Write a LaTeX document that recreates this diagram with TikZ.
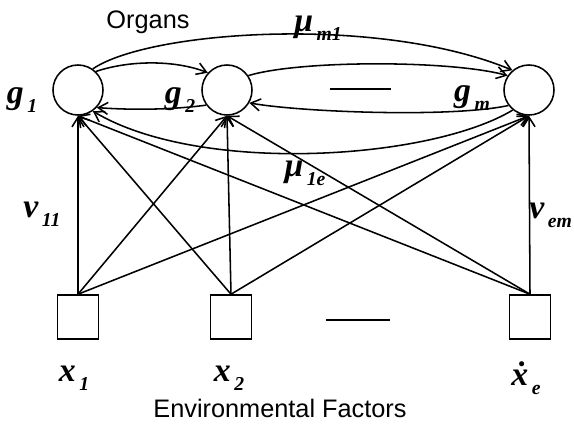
\documentclass[tikz,border=0pt]{standalone}
\usepackage{fontspec}
\newfontfamily\labelfont{Liberation Sans}
\newfontfamily\symfont{Liberation Serif}
\newcommand{\varlab}[2]{#1\kern2.5pt\raisebox{-0.6ex}{\fontsize{14}{16}\selectfont #2}}
\usetikzlibrary{arrows.meta,positioning}

\begin{document}
\begin{tikzpicture}[x=0.025cm, y=-0.025cm, line width=1.1pt,
    organ/.style={draw, circle, minimum size=1.25cm, inner sep=0pt},
    factor/.style={draw, rectangle, minimum width=1.03cm, minimum height=1.1cm, inner sep=0pt},
    link/.style={-{Straight Barb[length=2.4mm, width=3mm]}},
    sym/.style={font=\symfont\bfseries\itshape\fontsize{24}{28}\selectfont, inner sep=1pt},
    caption/.style={font=\labelfont\fontsize{18}{22}\selectfont}]
    \useasboundingbox (0,0) rectangle (574,429);

    % organs and environmental factors
    \node[organ] (g1) at (78,90) {};
    \node[organ] (g2) at (227,90) {};
    \node[organ] (gm) at (529,90) {};
    \node[factor] (x1) at (78,317) {};
    \node[factor] (x2) at (231,317) {};
    \node[factor] (xe) at (530,317) {};

    % labels
    \node[caption] (organs) at (148,22) {Organs};
    \node[caption] (envf) at (280,408) {Environmental Factors};
    \node[sym] (lg1) at (22,100) {\varlab{g}{1}};
    \node[sym] (lg2) at (180,100) {\varlab{g}{2}};
    \node[sym] (lgm) at (472,98) {\varlab{g}{m}};
    \node[sym] (lx1) at (74,378) {\varlab{x}{1}};
    \node[sym] (lx2) at (229,378) {\varlab{x}{2}};
    \node[sym] (lxe) at (526,378) {\varlab{\.{x}}{e}};
    \node[sym] (lmum1) at (318,28) {\varlab{μ}{m1}};
    \node[sym] (lmu1e) at (305,173) {\varlab{μ}{1e}};
    \node[sym] (lv11) at (42,214) {\varlab{v}{11}};
    \node[sym, anchor=east] (lvem) at (574,215) {\varlab{v}{em}};

    % dashes for the omitted ones
    \draw (330,89) -- (391,89);
    \draw (326,320) -- (390,320);

    % links between organs
    \draw[link] (g1.55) .. controls (150,30) and (380,15) .. (gm.130);
    \draw[link] (g1.46) .. controls (130,60) and (175,60) .. (g2.138);
    \draw[link] (g2.216) .. controls (170,110) and (130,110) .. (g1.-43);
    \draw[link] (g2.34) .. controls (300,60) and (450,60) .. (gm.146);
    \draw[link] (gm.217) .. controls (450,118) and (300,112) .. (g2.-30);
    \draw[link] (gm.231) .. controls (430,160) and (200,175) .. (g1.-55);

    % factors acting on organs
    \draw[link] (x1.north) -- (g1.south);
    \draw[link] (x1.north) -- (g2.south);
    \draw[link] (x1.north) -- (gm.south);
    \draw[link] (x2.north) -- (g1.south);
    \draw[link] (x2.north) -- (g2.south);
    \draw[link] (x2.north) -- (gm.south);
    \draw[link] (xe.north) -- (g1.south);
    \draw[link] (xe.north) -- (g2.south);
    \draw[link] (xe.north) -- (gm.south);
\end{tikzpicture}
\end{document}
